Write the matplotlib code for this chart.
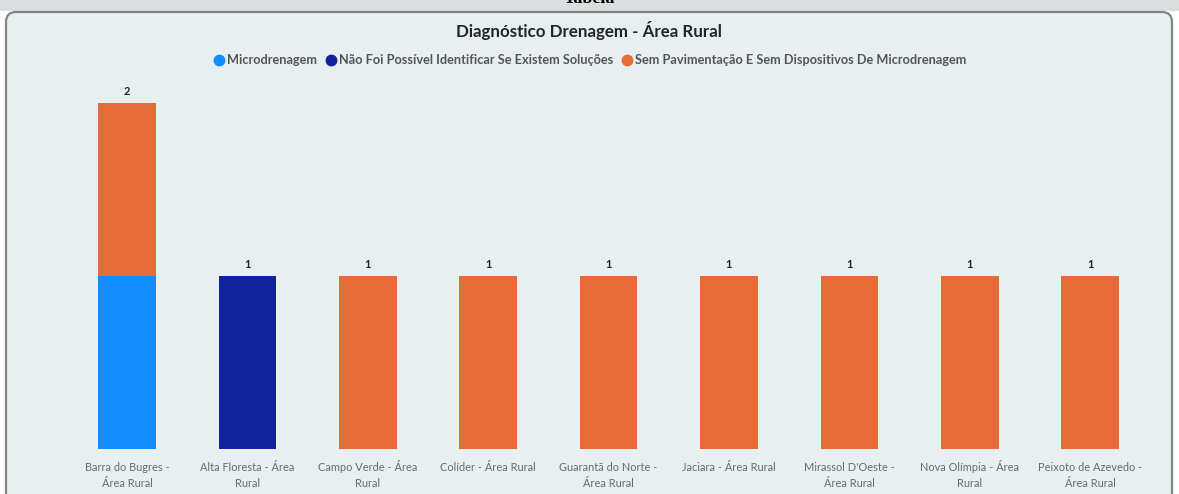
import matplotlib
matplotlib.use('Agg')
import matplotlib.pyplot as plt
from matplotlib.patches import FancyBboxPatch, Rectangle
from matplotlib.lines import Line2D
import numpy as np

plt.rcParams['font.family'] = ['Lato', 'DejaVu Sans']

cidades = [
    'Barra do Bugres -\nÁrea Rural',
    'Alta Floresta - Área\nRural',
    'Campo Verde - Área\nRural',
    'Colíder - Área Rural',
    'Guarantã do Norte -\nÁrea Rural',
    'Jaciara - Área Rural',
    "Mirassol D'Oeste -\nÁrea Rural",
    'Nova Olímpia - Área\nRural',
    'Peixoto de Azevedo -\nÁrea Rural',
]
microdrenagem = [1, 0, 0, 0, 0, 0, 0, 0, 0]
nao_identificado = [0, 1, 0, 0, 0, 0, 0, 0, 0]
sem_pavimentacao = [1, 0, 1, 1, 1, 1, 1, 1, 1]

series = [
    ('Microdrenagem', microdrenagem, '#118DFF'),
    ('Não Foi Possível Identificar Se Existem Soluções', nao_identificado, '#12239E'),
    ('Sem Pavimentação E Sem Dispositivos De Microdrenagem', sem_pavimentacao, '#E66C37'),
]

W, H = 1179, 494
fig = plt.figure(figsize=(W / 100, H / 100), dpi=100)
fig.patch.set_facecolor('white')

# faixa cinza do topo e cartao arredondado
fig.patches.append(Rectangle((0, 1 - 11 / H), 1, 11 / H, transform=fig.transFigure,
                             facecolor='#d9dddd', edgecolor='none', zorder=0))
card = FancyBboxPatch((6 / W, -0.05), (W - 13) / W, 1 - 12 / H + 0.05,
                      boxstyle='round,pad=0,rounding_size=%f' % (10 / W),
                      transform=fig.transFigure, facecolor='#e7eff1',
                      edgecolor='#7d8585', linewidth=1.6, zorder=1,
                      mutation_aspect=W / H)
fig.patches.append(card)

fig.text(0.5, 1 - 3 / H, 'Tabela', ha='center', va='baseline', fontsize=13,
         fontweight='bold', family='Liberation Serif', color='black')

ax = fig.add_axes([66.8 / W, 45 / H, 1083.6 / W, (449 - 68.4) / H])
ax.set_facecolor('none')
ax.set_zorder(2)

x = np.arange(len(cidades))
bottom = np.zeros(len(cidades))
for nome, vals, cor in series:
    vals = np.array(vals, dtype=float)
    ax.bar(x, vals, width=0.48, bottom=bottom, color=cor, label=nome)
    bottom += vals

for xi, tot in zip(x, bottom):
    ax.text(xi, tot + 0.035, '%d' % tot, ha='center', va='bottom',
            fontsize=8, fontweight='bold', color='#222222')

ax.set_xlim(-0.5, len(cidades) - 0.5)
ax.set_ylim(0, 2.2)
ax.set_xticks([])
ax.set_yticks([])
for s in ax.spines.values():
    s.set_visible(False)

# rotulos do eixo x, linha a linha para manter o alinhamento
for xi, rot in zip(x, cidades):
    for i, linha in enumerate(rot.split('\n')):
        ax.annotate(linha, xy=(xi, 0), xycoords=('data', 'axes fraction'),
                    xytext=(0, -22 - 16 * i), textcoords='offset pixels',
                    ha='center', va='baseline', fontsize=7.9, color='#6b6b6b')

fig.text(0.5, 1 - 30 / H, 'Diagnóstico Drenagem - Área Rural', ha='center',
         va='center', fontsize=12.2, fontweight='bold', color='#252525', zorder=3)

handles = [Line2D([], [], marker='o', linestyle='none', markersize=7.5,
                  markerfacecolor=c, markeredgecolor=c) for _, _, c in series]
leg = fig.legend(handles, [n for n, _, _ in series], loc='center',
                 bbox_to_anchor=(0.5, 1 - 60 / H), ncol=3, frameon=False,
                 handletextpad=0.1, columnspacing=0.6, handlelength=1.0,
                 prop={'size': 9.2, 'weight': 'bold'})
for t in leg.get_texts():
    t.set_color('#555555')
leg.set_zorder(3)

fig.savefig('out.png', dpi=100)
